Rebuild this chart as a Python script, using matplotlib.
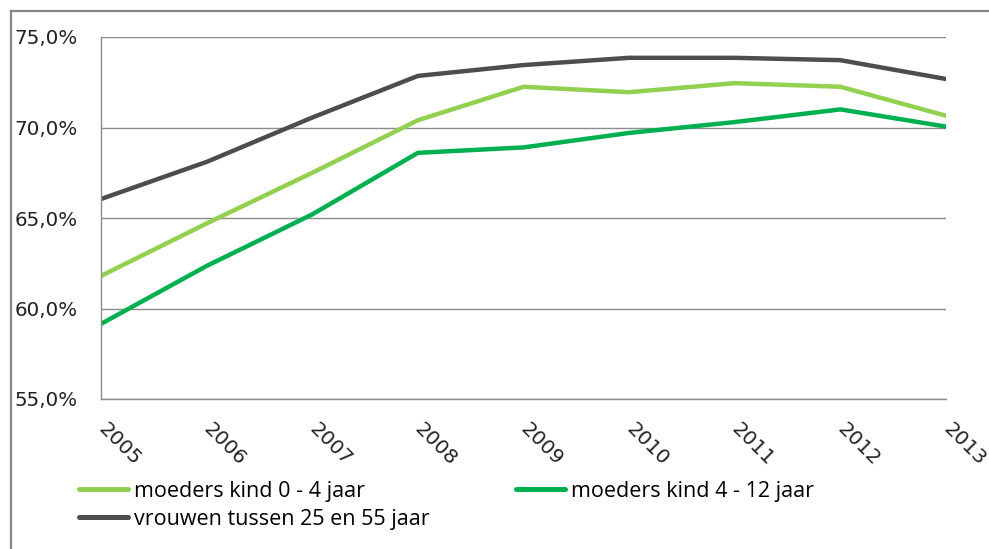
import matplotlib
matplotlib.use("Agg")
import matplotlib.pyplot as plt
from matplotlib.lines import Line2D
from matplotlib.ticker import FuncFormatter

years = ["2005", "2006", "2007", "2008", "2009", "2010", "2011", "2012", "2013"]
moeders_0_4 = [61.8, 64.7, 67.5, 70.4, 72.25, 71.95, 72.45, 72.25, 70.65]
moeders_4_12 = [59.15, 62.35, 65.2, 68.6, 68.9, 69.7, 70.3, 71.0, 70.05]
vrouwen_25_55 = [66.05, 68.1, 70.55, 72.85, 73.45, 73.85, 73.85, 73.72, 72.68]

labels = ["moeders kind 0 - 4 jaar", "moeders kind 4 - 12 jaar", "vrouwen tussen 25 en 55 jaar"]
colors = ["#92D050", "#00B050", "#4D4D4D"]
yticks = [55, 60, 65, 70, 75]

fig = plt.figure(figsize=(9.89, 5.49), dpi=100)
ax = fig.add_axes([101/989, 1-399/549, (946-101)/989, (399-37)/549])

x = list(range(len(years)))
h1, = ax.plot(x, moeders_0_4, color=colors[0], lw=3.2, solid_capstyle="round", label=labels[0])
h2, = ax.plot(x, moeders_4_12, color=colors[1], lw=3.2, solid_capstyle="round", label=labels[1])
h3, = ax.plot(x, vrouwen_25_55, color=colors[2], lw=3.2, solid_capstyle="round", label=labels[2])

ax.set_xlim(0, len(years)-1)
ax.set_ylim(55, 75)
ax.set_yticks(yticks)
ax.yaxis.set_major_formatter(FuncFormatter(lambda v, p: f"{v:.1f}%".replace(".", ",")))
ax.set_xticks(x)
ax.set_xticklabels(years)
for s in ["top", "right"]:
    ax.spines[s].set_visible(False)
for s in ["left", "bottom"]:
    ax.spines[s].set_color("#8c8c8c")
    ax.spines[s].set_linewidth(1.0)
ax.grid(axis="y", color="#8c8c8c", lw=1.0)
ax.set_axisbelow(True)
ax.tick_params(axis="y", length=0, pad=17, labelsize=14.3, labelcolor="#222222")
ax.tick_params(axis="x", length=0, pad=19.5, labelsize=14.5, labelcolor="#222222")
for t in ax.get_xticklabels():
    t.set_rotation(-45)
    t.set_rotation_mode("anchor")
    t.set_ha("left")
    t.set_va("center")
    t.set_family("DejaVu Sans")
for t in ax.get_yticklabels():
    t.set_family("DejaVu Sans")

leg = fig.legend([h1, h3, h2], [labels[0], labels[2], labels[1]], ncol=2,
                 loc="upper left", bbox_to_anchor=(79/989, 1-480.5/549),
                 frameon=False, prop={"family": "Open Sans", "size": 15.5},
                 handlelength=2.28, handletextpad=0.28, columnspacing=4.02,
                 labelspacing=0.33, borderaxespad=0, borderpad=0)
for lh in leg.get_lines():
    lh.set_linewidth(3.6)

# outer chart-area frame (left and top edges visible)
fig.add_artist(Line2D([11/989, 11/989], [0, 1-11/549], transform=fig.transFigure,
                      color="#868686", lw=1.6))
fig.add_artist(Line2D([11/989, 1], [1-11/549, 1-11/549], transform=fig.transFigure,
                      color="#868686", lw=1.6))

fig.savefig("out.png", dpi=100)
